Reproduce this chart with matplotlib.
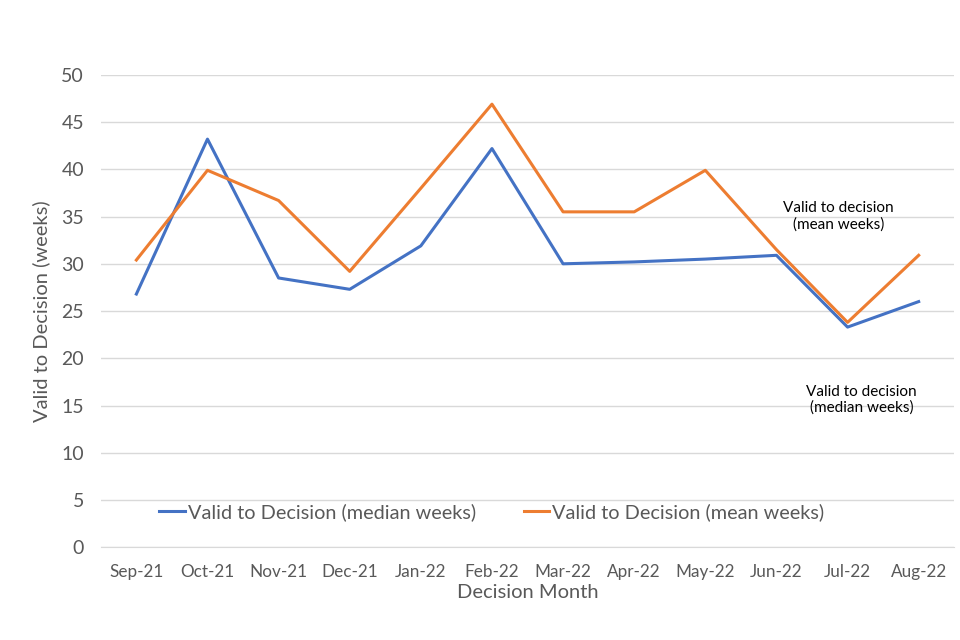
import matplotlib.pyplot as plt

plt.rcParams['font.family'] = ['Lato', 'DejaVu Sans']

# Mesi di decisione
months = ["Sep-21", "Oct-21", "Nov-21", "Dec-21", "Jan-22", "Feb-22",
          "Mar-22", "Apr-22", "May-22", "Jun-22", "Jul-22", "Aug-22"]

# Settimane mediane e medie
median_weeks = [26.8, 43.2, 28.5, 27.3, 31.9, 42.2, 30.0, 30.2, 30.5, 30.9, 23.3, 26.0]
mean_weeks = [30.4, 39.9, 36.7, 29.2, 38.0, 46.9, 35.5, 35.5, 39.9, 31.5, 23.8, 30.9]

blue = '#4472C4'
orange = '#ED7D31'
grey = '#595959'

fig = plt.figure(figsize=(9.6, 6.4), dpi=100)
ax = fig.add_axes([0.105, 0.145, 0.889, 0.738])

x = range(len(months))
ax.plot(x, median_weeks, color=blue, lw=2.2, label='Valid to Decision (median weeks)')
ax.plot(x, mean_weeks, color=orange, lw=2.2, label='Valid to Decision (mean weeks)')

ax.set_xlim(-0.5, len(months) - 0.5)
ax.set_ylim(0, 50)
ax.set_yticks(range(0, 51, 5))
ax.set_xticks(list(x))
ax.set_xticklabels(months)
ax.grid(axis='y', color='#d9d9d9', lw=1)
ax.set_axisbelow(True)
for s in ['top', 'right', 'left']:
    ax.spines[s].set_visible(False)
ax.spines['bottom'].set_color('#d9d9d9')
ax.tick_params(axis='both', length=0, colors=grey)
ax.tick_params(axis='y', labelsize=14, pad=12)
ax.tick_params(axis='x', labelsize=12.3, pad=12)

ax.set_ylabel('Valid to Decision (weeks)', fontsize=14.5, color=grey, labelpad=8)
ax.set_xlabel('Decision Month', fontsize=14.5, color=grey, labelpad=3)

ax.legend(loc='center', bbox_to_anchor=(0.458, 0.074), ncol=2, frameon=False,
          fontsize=14.3, labelcolor=grey, handlelength=1.3, handletextpad=0.15,
          columnspacing=2.4)

# Etichette testuali
ax.text(9.87, 35.0, 'Valid to decision\n(mean weeks)', ha='center', va='center',
        fontsize=11, color='black')
ax.text(10.2, 15.6, 'Valid to decision\n(median weeks)', ha='center', va='center',
        fontsize=11, color='black')

fig.savefig('out.png', dpi=100)
